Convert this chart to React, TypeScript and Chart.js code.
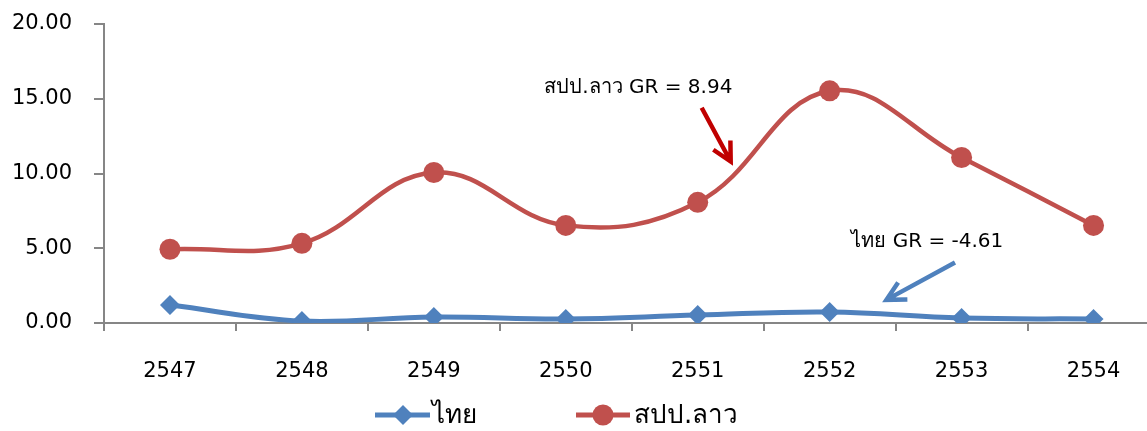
import React, { useEffect, useRef } from "react";
import { Chart, registerables } from "chart.js";

Chart.register(...registerables);

const years = ["2547", "2548", "2549", "2550", "2551", "2552", "2553", "2554"];
const thaiValues = [1.2, 0.13, 0.4, 0.27, 0.53, 0.73, 0.33, 0.27];
const laosValues = [4.93, 5.33, 10.07, 6.53, 8.07, 15.53, 11.07, 6.53];
const seriesNames = ["ไทย", "สปป.ลาว"];
const yTicks = [0, 5, 10, 15, 20];
const laosNote = "สปป.ลาว GR = 8.94";
const thaiNote = "ไทย GR = -4.61";

const BLUE = "#4F81BD";
const RED = "#C0504D";
const DARK_RED = "#C00000";
const AXIS = "#868686";
const FONT = "Tahoma, 'DejaVu Sans', sans-serif";

function arrow(ctx: CanvasRenderingContext2D, x1: number, y1: number, x2: number, y2: number, color: string) {
  const ang = Math.atan2(y2 - y1, x2 - x1);
  const head = 21;
  const spread = 0.48;
  ctx.save();
  ctx.strokeStyle = color;
  ctx.lineWidth = 4.5;
  ctx.lineCap = "butt";
  ctx.lineJoin = "miter";
  ctx.beginPath();
  ctx.moveTo(x1, y1);
  ctx.lineTo(x2 - 2 * Math.cos(ang), y2 - 2 * Math.sin(ang));
  ctx.moveTo(x2 - head * Math.cos(ang - spread), y2 - head * Math.sin(ang - spread));
  ctx.lineTo(x2, y2);
  ctx.lineTo(x2 - head * Math.cos(ang + spread), y2 - head * Math.sin(ang + spread));
  ctx.stroke();
  ctx.restore();
}

const extrasPlugin = {
  id: "extras",
  afterDraw(chart: any) {
    const ctx: CanvasRenderingContext2D = chart.ctx;
    const xs = chart.scales.x;
    const ys = chart.scales.y;
    const px = (i: number) => xs.getPixelForValue(i);
    const py = (v: number) => ys.getPixelForValue(v);

    ctx.save();
    ctx.fillStyle = "#000";
    ctx.font = `20px ${FONT}`;
    ctx.textAlign = "center";
    ctx.textBaseline = "middle";
    ctx.fillText(laosNote, px(3.55), py(15.75));
    ctx.fillText(thaiNote, px(5.74), py(5.45));
    ctx.restore();

    arrow(ctx, px(4.03), py(14.4), px(4.25), py(10.8), DARK_RED);
    arrow(ctx, px(5.95), py(4.05), px(5.43), py(1.55), BLUE);

    // legend
    const ly = 415;
    ctx.save();
    ctx.lineWidth = 5;
    ctx.strokeStyle = BLUE;
    ctx.beginPath();
    ctx.moveTo(375, ly);
    ctx.lineTo(430, ly);
    ctx.stroke();
    ctx.fillStyle = BLUE;
    ctx.beginPath();
    ctx.moveTo(403, ly - 10);
    ctx.lineTo(413, ly);
    ctx.lineTo(403, ly + 10);
    ctx.lineTo(393, ly);
    ctx.closePath();
    ctx.fill();

    ctx.strokeStyle = RED;
    ctx.beginPath();
    ctx.moveTo(576, ly);
    ctx.lineTo(630, ly);
    ctx.stroke();
    ctx.fillStyle = RED;
    ctx.beginPath();
    ctx.arc(603, ly, 10.5, 0, Math.PI * 2);
    ctx.fill();

    ctx.fillStyle = "#000";
    ctx.font = `26px ${FONT}`;
    ctx.textAlign = "left";
    ctx.textBaseline = "middle";
    ctx.fillText(seriesNames[0], 432, ly + 1);
    ctx.fillText(seriesNames[1], 634, ly + 1);
    ctx.restore();
  },
};

export default function App() {
  const ref = useRef<HTMLCanvasElement>(null);
  useEffect(() => {
    document.body.style.margin = "0";
    const chart = new Chart(ref.current!, {
      type: "line",
      data: {
        labels: years,
        datasets: [
          {
            label: seriesNames[0],
            data: thaiValues,
            borderColor: BLUE,
            backgroundColor: BLUE,
            borderWidth: 5,
            pointStyle: "rectRot",
            pointRadius: 10,
            pointBorderWidth: 0,
            tension: 0.4,
          },
          {
            label: seriesNames[1],
            data: laosValues,
            borderColor: RED,
            backgroundColor: RED,
            borderWidth: 4.5,
            pointStyle: "circle",
            pointRadius: 10.5,
            pointBorderWidth: 0,
            tension: 0.4,
          },
        ],
      },
      options: {
        animation: false,
        responsive: false,
        layout: { padding: { top: 24, right: 10, bottom: 0, left: 0 } },
        plugins: { legend: { display: false }, tooltip: { enabled: false } },
        scales: {
          x: {
            offset: true,
            grid: { offset: true, drawOnChartArea: false, drawTicks: true, tickLength: 8, color: AXIS, lineWidth: 2 },
            border: { color: AXIS, width: 2 },
            ticks: { color: "#000", font: { family: FONT, size: 21 }, padding: 28, maxRotation: 0 },
            afterFit: (s: any) => { s.height = 108; },
          },
          y: {
            min: 0,
            max: 20,
            afterBuildTicks: (s: any) => { s.ticks = yTicks.map((v) => ({ value: v })); },
            grid: { drawOnChartArea: false, drawTicks: true, tickLength: 10, color: AXIS, lineWidth: 2 },
            border: { color: AXIS, width: 2 },
            ticks: { color: "#000", font: { family: FONT, size: 21 }, padding: 22, callback: (v: any) => Number(v).toFixed(2) },
            afterFit: (s: any) => { s.width = 104; s.paddingTop = 0; s.paddingBottom = 0; },
          },
        },
      },
      plugins: [extrasPlugin],
    });
    return () => chart.destroy();
  }, []);
  return (
    <div style={{ width: 1147, height: 431, overflow: "hidden" }}>
      <canvas ref={ref} width={1170} height={431} style={{ display: "block" }} />
    </div>
  );
}
